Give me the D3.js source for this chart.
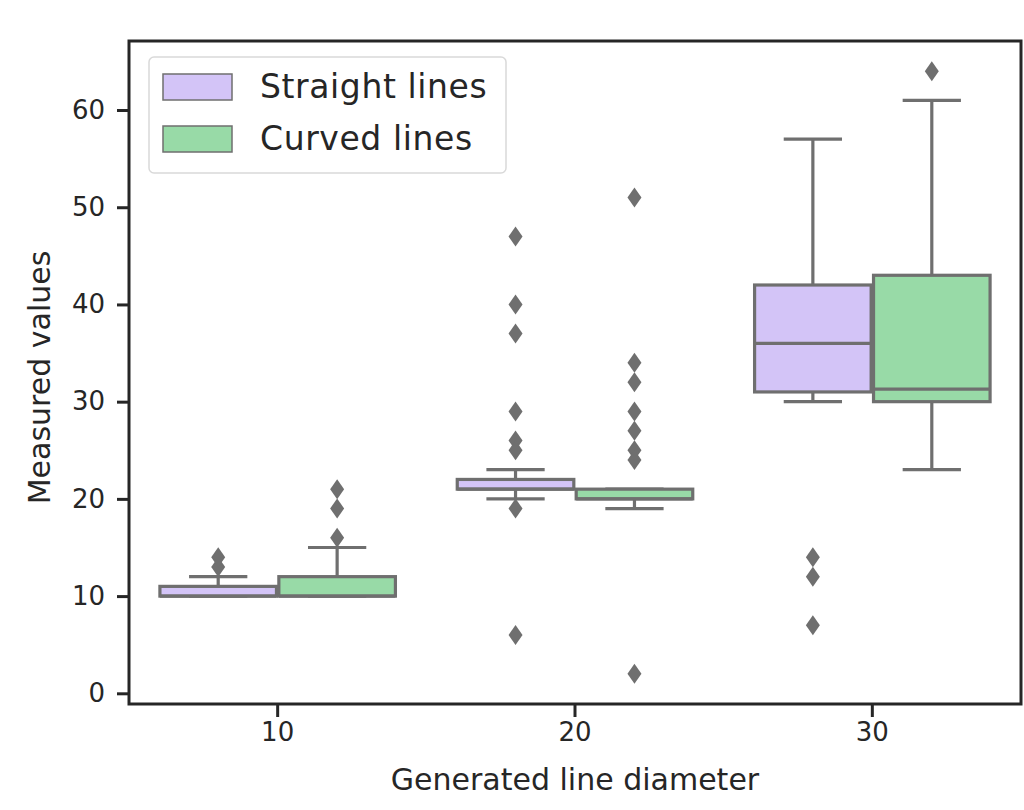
<!DOCTYPE html>
<html>
<head>
<meta charset="utf-8">
<script src="https://cdn.jsdelivr.net/npm/d3@7"></script>
<style>
  html, body { margin: 0; padding: 0; background: #fff; }
  svg { display: block; font-family: "DejaVu Sans", sans-serif; }
</style>
</head>
<body>
<svg id="chart" width="1024" height="810"></svg>
<script>
// Categories (generated line diameter) and series
const categories = ["10", "20", "30"];
const seriesNames = ["Straight lines", "Curved lines"];
const seriesColors = ["#d3c4f7", "#98daa7"];
const yTicks = [0, 10, 20, 30, 40, 50, 60];

// Box statistics per diameter: straight lines
const straightQ1 = [10, 21, 31];
const straightMedian = [10, 21, 36];
const straightQ3 = [11, 22, 42];
const straightWhiskerLow = [10, 20, 30];
const straightWhiskerHigh = [12, 23, 57];
const straightOutliers = [[13, 14], [47, 40, 37, 29, 26, 25, 19, 6], [14, 12, 7]];

// Box statistics per diameter: curved lines
const curvedQ1 = [10, 20, 30];
const curvedMedian = [10, 20, 31.3];
const curvedQ3 = [12, 21, 43];
const curvedWhiskerLow = [10, 19, 23];
const curvedWhiskerHigh = [15, 21, 61];
const curvedOutliers = [[16, 19, 21], [51, 34, 32, 29, 27, 25, 24, 2], [64]];

const series = [
  { q1: straightQ1, med: straightMedian, q3: straightQ3, lo: straightWhiskerLow, hi: straightWhiskerHigh, out: straightOutliers },
  { q1: curvedQ1, med: curvedMedian, q3: curvedQ3, lo: curvedWhiskerLow, hi: curvedWhiskerHigh, out: curvedOutliers }
];

const svg = d3.select("#chart");
const plot = { left: 129, right: 1021, top: 41, bottom: 704 };
const lineGray = "#6f6f6f";
const textColor = "#262626";

const x = d3.scaleBand().domain(categories).range([plot.left, plot.right]);
const y = d3.scaleLinear().domain([-1.1, 67.1]).range([plot.bottom, plot.top]);

const groupWidth = x.bandwidth() * 0.8;
const boxWidth = groupWidth / seriesNames.length * 0.98;
const offsets = seriesNames.map((_, i) => -groupWidth / 2 + groupWidth / seriesNames.length * (i + 0.5));

const g = svg.append("g");

series.forEach((s, si) => {
  categories.forEach((c, ci) => {
    const cx = x(c) + x.bandwidth() / 2 + offsets[si];
    const bg = g.append("g");
    // whiskers
    bg.append("line").attr("x1", cx).attr("x2", cx)
      .attr("y1", y(s.q3[ci])).attr("y2", y(s.hi[ci]))
      .attr("stroke", lineGray).attr("stroke-width", 3.2);
    bg.append("line").attr("x1", cx).attr("x2", cx)
      .attr("y1", y(s.q1[ci])).attr("y2", y(s.lo[ci]))
      .attr("stroke", lineGray).attr("stroke-width", 3.2);
    // caps
    [s.hi[ci], s.lo[ci]].forEach(v => {
      bg.append("line").attr("x1", cx - boxWidth / 4).attr("x2", cx + boxWidth / 4)
        .attr("y1", y(v)).attr("y2", y(v))
        .attr("stroke", lineGray).attr("stroke-width", 3.2);
    });
    // box
    bg.append("rect")
      .attr("x", cx - boxWidth / 2).attr("width", boxWidth)
      .attr("y", y(s.q3[ci])).attr("height", y(s.q1[ci]) - y(s.q3[ci]))
      .attr("fill", seriesColors[si]).attr("stroke", lineGray).attr("stroke-width", 3.2);
    // median
    bg.append("line").attr("x1", cx - boxWidth / 2).attr("x2", cx + boxWidth / 2)
      .attr("y1", y(s.med[ci])).attr("y2", y(s.med[ci]))
      .attr("stroke", lineGray).attr("stroke-width", 3.2);
    // outliers as diamonds
    bg.selectAll("path.flier").data(s.out[ci]).join("path")
      .attr("class", "flier")
      .attr("d", v => {
        const py = y(v);
        return `M${cx},${py - 10}L${cx + 7},${py}L${cx},${py + 10}L${cx - 7},${py}Z`;
      })
      .attr("fill", lineGray);
  });
});

// Axes
const yAxis = d3.axisLeft(y).tickValues(yTicks).tickSize(12).tickPadding(12);
const xAxis = d3.axisBottom(x).tickSize(13).tickPadding(6);

const ya = svg.append("g").attr("transform", `translate(${plot.left},0)`).call(yAxis);
const xa = svg.append("g").attr("transform", `translate(0,${plot.bottom})`).call(xAxis);
[ya, xa].forEach(a => {
  a.select(".domain").remove();
  a.selectAll(".tick line").attr("stroke", textColor).attr("stroke-width", 3);
  a.selectAll(".tick text").attr("fill", textColor).style("font-size", "26px")
    .style("font-family", "DejaVu Sans, sans-serif");
});

// Frame
svg.append("rect")
  .attr("x", plot.left).attr("y", plot.top)
  .attr("width", plot.right - plot.left).attr("height", plot.bottom - plot.top)
  .attr("fill", "none").attr("stroke", textColor).attr("stroke-width", 3);

// Axis titles
svg.append("text")
  .attr("x", (plot.left + plot.right) / 2).attr("y", 790)
  .attr("text-anchor", "middle").attr("fill", textColor)
  .style("font-size", "30px")
  .text("Generated line diameter");

svg.append("text")
  .attr("transform", `translate(50,${(plot.top + plot.bottom) / 2 + 5}) rotate(-90)`)
  .attr("text-anchor", "middle").attr("fill", textColor)
  .style("font-size", "30px")
  .text("Measured values");

// Legend
const legend = svg.append("g");
legend.append("rect")
  .attr("x", 149).attr("y", 57).attr("width", 357).attr("height", 116)
  .attr("rx", 5).attr("fill", "#fff").attr("stroke", "#d9d9d9").attr("stroke-width", 1.5);
seriesNames.forEach((name, i) => {
  const ly = 74 + i * 52;
  legend.append("rect")
    .attr("x", 163).attr("y", ly).attr("width", 69).attr("height", 26)
    .attr("fill", seriesColors[i]).attr("stroke", lineGray).attr("stroke-width", 1.5);
  legend.append("text")
    .attr("x", 260).attr("y", ly + 24)
    .attr("fill", textColor).style("font-size", "33px")
    .style("letter-spacing", "0.6px")
    .text(name);
});
</script>
</body>
</html>
